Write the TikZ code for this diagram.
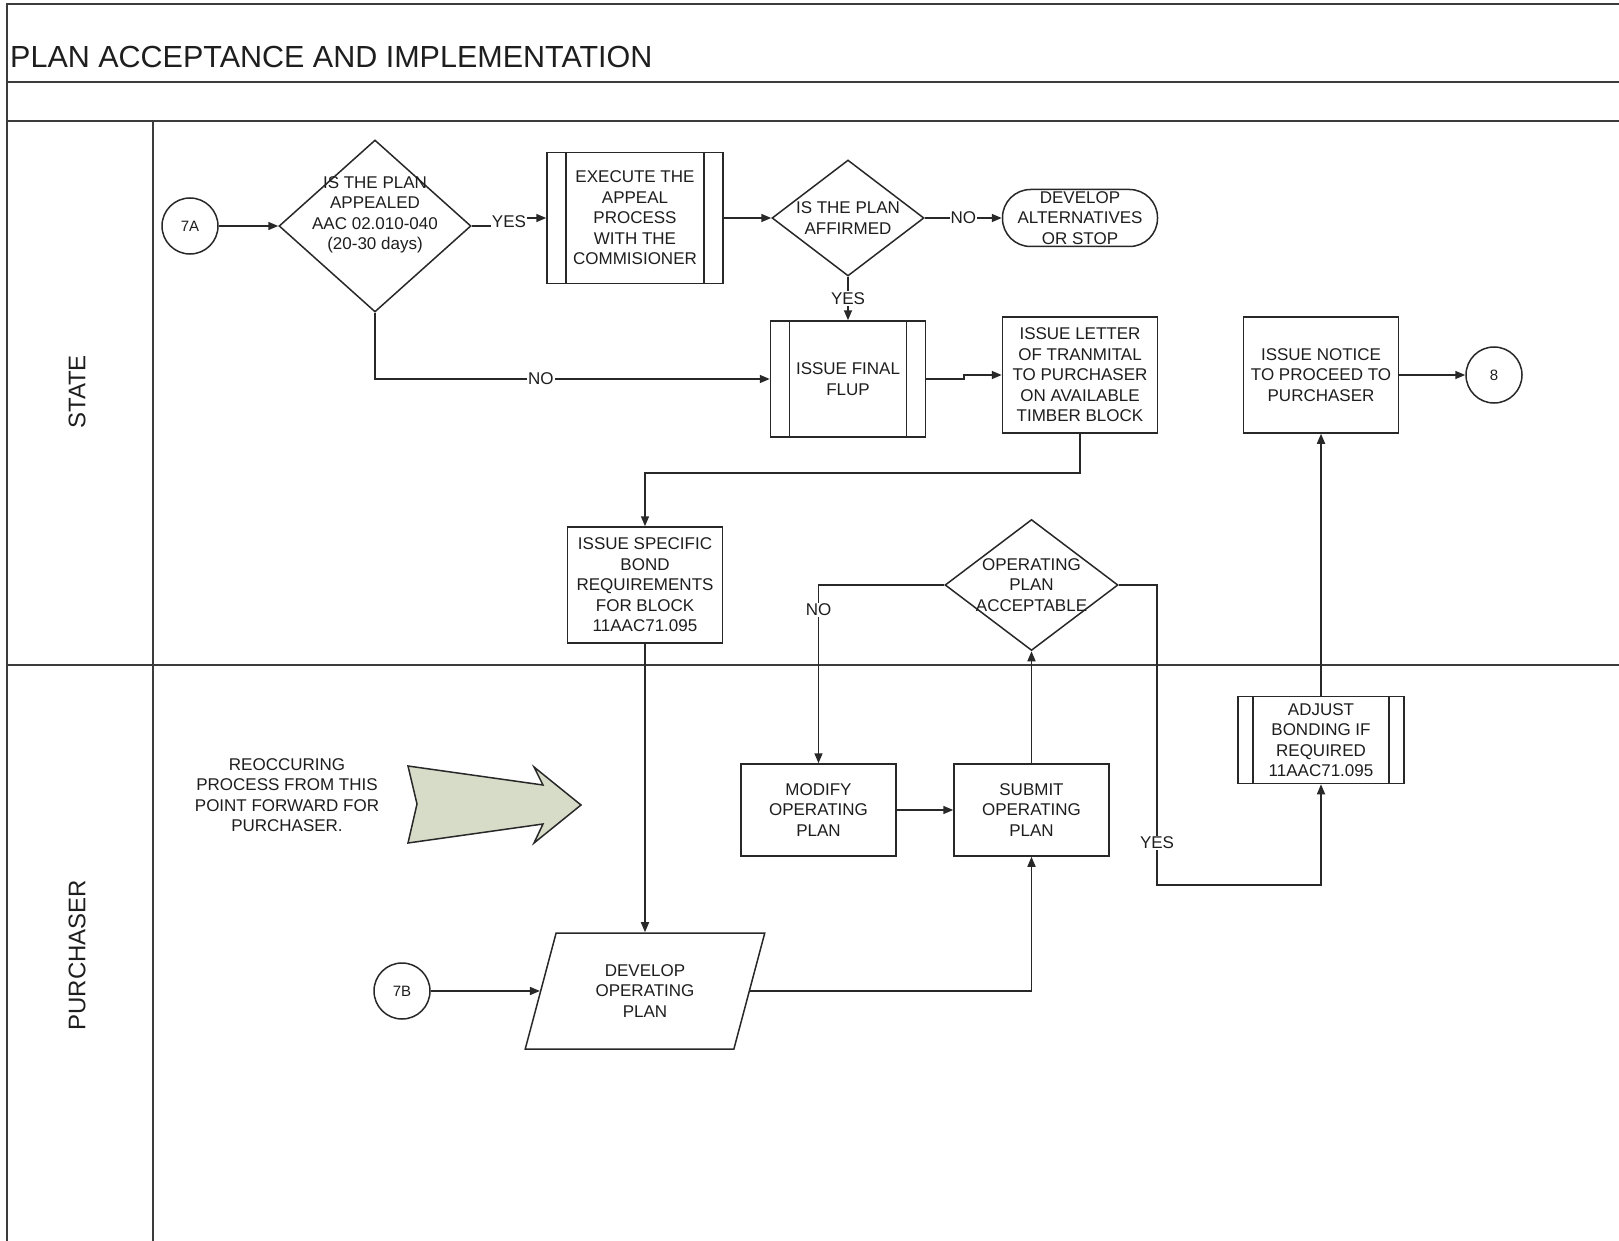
\documentclass[tikz,border=0pt]{standalone}
\usepackage{fontspec}
\setmainfont{Liberation Sans}
\usepackage{xcolor}
\usepackage{tikz}
\usetikzlibrary{shapes.geometric, arrows.meta, positioning, calc}
\definecolor{frameline}{RGB}{60, 60, 60}
\definecolor{boxline}{RGB}{40, 40, 40}
\definecolor{inkgray}{RGB}{30, 30, 30}
\definecolor{notefill}{RGB}{214, 220, 200}

\begin{document}
\begin{tikzpicture}[x=1pt, y=-1pt,
    every node/.style={font=\fontsize{17}{20.5}\selectfont, text=inkgray, align=center},
    box/.style={draw=boxline, line width=1.5pt, rectangle, minimum width=155pt,
                minimum height=116pt, inner sep=0pt},
    subproc/.style={box, path picture={
        \draw[boxline, line width=1.5pt]
            ([xshift=#1]path picture bounding box.north west) -- ([xshift=#1]path picture bounding box.south west)
            ([xshift=-#1]path picture bounding box.north east) -- ([xshift=-#1]path picture bounding box.south east);}},
    subproc/.default=19pt,
    decision/.style={draw=boxline, line width=1.5pt, diamond, inner sep=0pt},
    endcap/.style={draw=boxline, line width=1.5pt, circle, minimum size=56pt, inner sep=0pt,
                   font=\fontsize{15}{18}\selectfont},
    flow/.style={draw=boxline, line width=1.6pt, -{Triangle[length=10pt, width=8pt]}},
    tag/.style={fill=white, inner sep=1pt},
    lane/.style={draw=frameline, line width=2.6pt}]

    \useasboundingbox (0,0) rectangle (1619,1241);
    \fill[white] (0,0) rectangle (1619,1241);

    % swimlane frame
    \draw[lane] (7,1241) -- (7,4) -- (1619,4);
    \draw[lane] (7,82) -- (1619,82);
    \draw[lane] (7,121) -- (1619,121);
    \draw[lane] (153,121) -- (153,1241);
    \draw[lane] (7,665) -- (1619,665);

    \node[anchor=base west, inner sep=0pt, font=\fontsize{30.5}{36}\selectfont] (title) at (10,68)
        {PLAN ACCEPTANCE AND IMPLEMENTATION};
    \node[rotate=90, font=\fontsize{24}{28}\selectfont] (statelane) at (77,392) {STATE};
    \node[rotate=90, font=\fontsize{24}{28}\selectfont] (buyerlane) at (77,955) {PURCHASER};

    % state lane
    \node[endcap] (c7a) at (190,226) {7A};
    \node[decision, minimum width=192pt, minimum height=172pt,
          label={[yshift=11pt]center:{IS THE PLAN\\APPEALED\\AAC 02.010-040\\(20-30 days)}}] (appeal) at (375,226) {};
    \node[subproc, minimum width=176pt, minimum height=131pt] (appealproc) at (635,218)
        {EXECUTE THE\\APPEAL\\PROCESS\\WITH THE\\COMMISIONER};
    \node[decision, minimum width=152pt, minimum height=116pt,
          label=center:{IS THE PLAN\\AFFIRMED}] (affirmed) at (848,218) {};
    \node[box, rounded corners=28pt, minimum height=57pt,
          label=center:{DEVELOP\\ALTERNATIVES\\OR STOP}] (altstop) at (1080,218) {};
    \node[subproc] (finalflup) at (848,379) {ISSUE FINAL\\FLUP};
    \node[box] (letter) at (1080,375) {ISSUE LETTER\\OF TRANMITAL\\TO PURCHASER\\ON AVAILABLE\\TIMBER BLOCK};
    \node[box] (notice) at (1321,375) {ISSUE NOTICE\\TO PROCEED TO\\PURCHASER};
    \node[endcap] (c8) at (1494,375) {8};
    \node[box] (bondreq) at (645,585) {ISSUE SPECIFIC\\BOND\\REQUIREMENTS\\FOR BLOCK\\11AAC71.095};
    \node[decision, minimum width=173pt, minimum height=131pt,
          label=center:{OPERATING\\PLAN\\ACCEPTABLE}] (acceptable) at (1031.5,585) {};

    % purchaser lane
    \node (recurnote) at (287,795) {REOCCURING\\PROCESS FROM THIS\\POINT FORWARD FOR\\PURCHASER.};
    \filldraw[fill=notefill, draw=boxline, line width=1.5pt]
        (408,766) -- (543,785) -- (534,767) -- (581,805) -- (534,843) -- (543,824) -- (408,843) -- (417,804) -- cycle;
    \node[subproc=15pt, minimum width=166pt, minimum height=87pt] (adjust) at (1321,740)
        {ADJUST\\BONDING IF\\REQUIRED\\11AAC71.095};
    \node[box, minimum height=92pt] (modify) at (818.5,810) {MODIFY\\OPERATING\\PLAN};
    \node[box, minimum height=92pt] (submit) at (1031.5,810) {SUBMIT\\OPERATING\\PLAN};
    \node[trapezium, trapezium left angle=72, trapezium right angle=108, trapezium stretches=true,
          draw=boxline, line width=1.5pt, minimum width=240pt, minimum height=116pt, inner sep=0pt]
        (devplan) at (645,991) {DEVELOP\\OPERATING\\PLAN};
    \node[endcap] (c7b) at (402,991) {7B};
    \coordinate (okturn) at (1157,885);

    % connectors
    \draw[flow] (c7a) -- (appeal);
    \draw[flow] (appeal.east) -| ($(appeal.east)!.5!(appealproc.west)$) node[tag]{YES} |- (appealproc.west);
    \draw[flow] (appealproc.east) -- (affirmed.west);
    \draw[flow] (affirmed.east) -- node[tag]{NO} (altstop.west);
    \draw[flow] (affirmed.south) -- node[tag]{YES} (finalflup.north);
    \draw[flow] (appeal.south) |- node[tag, pos=0.71]{NO} (finalflup.west);
    \draw[flow] (finalflup.east) -| ($(finalflup.east)!.5!(letter.west)$) |- (letter.west);
    \draw[flow] (letter.south) -- ++(0,39) -| (bondreq.north);
    \draw[flow] (bondreq.south) -- (bondreq.south |- devplan.north);
    \draw[flow] (c7b) -- (devplan);
    \draw[flow] (devplan) -| (submit.south);
    \draw[flow] (modify) -- (submit);
    \draw[flow] (submit) -- (acceptable);
    \draw[flow] (acceptable.west) -| node[tag, pos=0.57]{NO} (modify.north);
    \draw[flow] (acceptable.east) -| node[tag, pos=0.93]{YES} (okturn) -| (adjust.south);
    \draw[flow] (adjust) -- (notice);
    \draw[flow] (notice) -- (c8);
\end{tikzpicture}
\end{document}
